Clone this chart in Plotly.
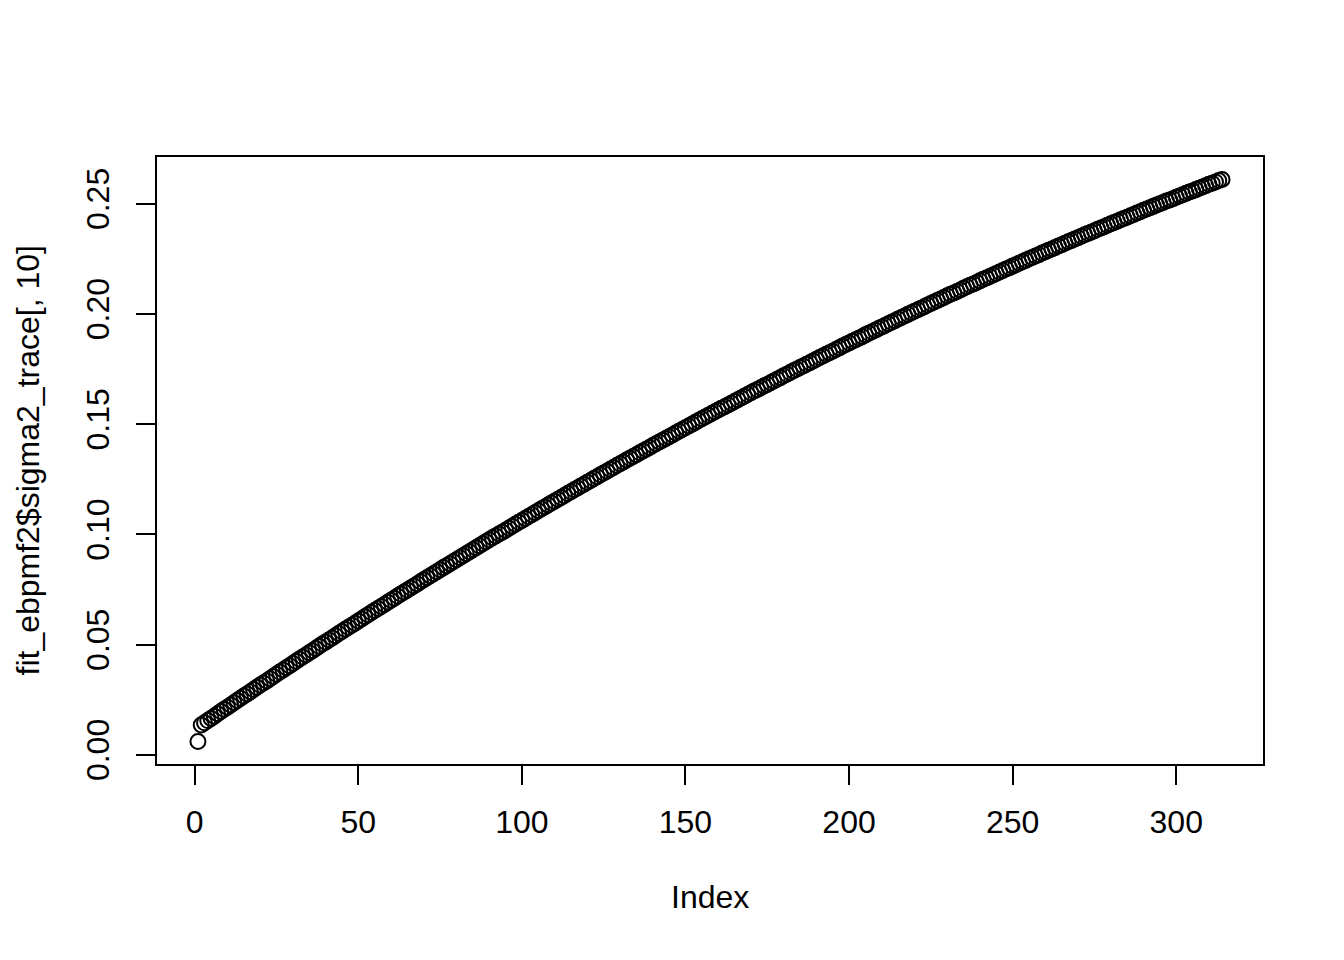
import plotly.graph_objects as go

# Values (index 1..314)
sigma2_trace_10 = [
    0.0060, 0.0135, 0.0145, 0.0155, 0.0165, 0.0175, 0.0186, 0.0196, 0.0206, 0.0216,
    0.0226, 0.0236, 0.0246, 0.0256, 0.0266, 0.0276, 0.0286, 0.0296, 0.0306, 0.0316,
    0.0326, 0.0335, 0.0345, 0.0355, 0.0365, 0.0375, 0.0385, 0.0395, 0.0404, 0.0414,
    0.0424, 0.0434, 0.0443, 0.0453, 0.0463, 0.0472, 0.0482, 0.0492, 0.0502, 0.0511,
    0.0521, 0.0530, 0.0540, 0.0550, 0.0559, 0.0569, 0.0578, 0.0588, 0.0597, 0.0607,
    0.0616, 0.0626, 0.0635, 0.0645, 0.0654, 0.0663, 0.0673, 0.0682, 0.0692, 0.0701,
    0.0710, 0.0720, 0.0729, 0.0738, 0.0747, 0.0757, 0.0766, 0.0775, 0.0785, 0.0794,
    0.0803, 0.0812, 0.0821, 0.0830, 0.0839, 0.0849, 0.0858, 0.0867, 0.0876, 0.0885,
    0.0894, 0.0903, 0.0912, 0.0921, 0.0930, 0.0939, 0.0948, 0.0957, 0.0966, 0.0975,
    0.0984, 0.0993, 0.1002, 0.1010, 0.1019, 0.1028, 0.1037, 0.1046, 0.1055, 0.1063,
    0.1072, 0.1081, 0.1089, 0.1098, 0.1107, 0.1116, 0.1124, 0.1133, 0.1142, 0.1150,
    0.1159, 0.1167, 0.1176, 0.1185, 0.1193, 0.1202, 0.1210, 0.1219, 0.1227, 0.1236,
    0.1244, 0.1253, 0.1261, 0.1270, 0.1278, 0.1286, 0.1295, 0.1303, 0.1312, 0.1320,
    0.1328, 0.1337, 0.1345, 0.1353, 0.1361, 0.1370, 0.1378, 0.1386, 0.1394, 0.1403,
    0.1411, 0.1419, 0.1427, 0.1435, 0.1443, 0.1451, 0.1460, 0.1468, 0.1476, 0.1484,
    0.1492, 0.1500, 0.1508, 0.1516, 0.1524, 0.1532, 0.1540, 0.1548, 0.1556, 0.1564,
    0.1572, 0.1579, 0.1587, 0.1595, 0.1603, 0.1611, 0.1619, 0.1626, 0.1634, 0.1642,
    0.1650, 0.1657, 0.1665, 0.1673, 0.1680, 0.1688, 0.1696, 0.1704, 0.1711, 0.1719,
    0.1726, 0.1734, 0.1742, 0.1749, 0.1757, 0.1764, 0.1772, 0.1779, 0.1787, 0.1794,
    0.1802, 0.1809, 0.1817, 0.1824, 0.1831, 0.1839, 0.1846, 0.1854, 0.1861, 0.1868,
    0.1876, 0.1883, 0.1890, 0.1897, 0.1905, 0.1912, 0.1919, 0.1926, 0.1934, 0.1941,
    0.1948, 0.1955, 0.1962, 0.1969, 0.1977, 0.1984, 0.1991, 0.1998, 0.2005, 0.2012,
    0.2019, 0.2026, 0.2033, 0.2040, 0.2047, 0.2054, 0.2061, 0.2068, 0.2075, 0.2082,
    0.2089, 0.2095, 0.2102, 0.2109, 0.2116, 0.2123, 0.2130, 0.2136, 0.2143, 0.2150,
    0.2157, 0.2163, 0.2170, 0.2177, 0.2183, 0.2190, 0.2197, 0.2204, 0.2210, 0.2217,
    0.2223, 0.2230, 0.2237, 0.2243, 0.2250, 0.2256, 0.2263, 0.2269, 0.2276, 0.2282,
    0.2289, 0.2295, 0.2301, 0.2308, 0.2314, 0.2321, 0.2327, 0.2333, 0.2340, 0.2346,
    0.2352, 0.2359, 0.2365, 0.2371, 0.2377, 0.2384, 0.2390, 0.2396, 0.2402, 0.2409,
    0.2415, 0.2421, 0.2427, 0.2433, 0.2439, 0.2445, 0.2451, 0.2458, 0.2464, 0.2470,
    0.2476, 0.2482, 0.2488, 0.2494, 0.2500, 0.2506, 0.2512, 0.2517, 0.2523, 0.2529,
    0.2535, 0.2541, 0.2547, 0.2553, 0.2558, 0.2564, 0.2570, 0.2576, 0.2582, 0.2588,
    0.2593, 0.2599, 0.2605, 0.2610,
]
index = list(range(1, len(sigma2_trace_10) + 1))

x_ticks = [0, 50, 100, 150, 200, 250, 300]
y_ticks = [0.00, 0.05, 0.10, 0.15, 0.20, 0.25]

x_title = "Index"
y_title = "fit_ebpmf2$sigma2_trace[, 10]"

# R-style 4% range extension
def r_range(v):
    lo, hi = min(v), max(v)
    d = (hi - lo) * 0.04
    return [lo - d, hi + d]

FONT = "Liberation Sans, Arial, Helvetica, sans-serif"
FS = 32

fig = go.Figure()
fig.add_trace(go.Scatter(
    x=index, y=sigma2_trace_10, mode="markers",
    marker=dict(symbol="circle-open", size=15, color="black",
                line=dict(width=2, color="black")),
    showlegend=False, hoverinfo="x+y",
))

axis_common = dict(
    showline=True, mirror=True, linecolor="black", linewidth=2,
    ticks="outside", ticklen=19, tickwidth=2, tickcolor="black",
    showgrid=False, zeroline=False,
    tickfont=dict(family=FONT, size=FS, color="black"),
)

fig.update_layout(
    width=1344, height=960,
    margin=dict(l=149, r=89, t=149, b=204),
    paper_bgcolor="white", plot_bgcolor="white",
    font=dict(family=FONT, size=FS, color="black"),
    xaxis=dict(range=r_range(index), tickvals=x_ticks,
               ticktext=[str(t) for t in x_ticks], ticklabelstandoff=10,
               **axis_common),
    yaxis=dict(range=r_range(sigma2_trace_10), tickvals=y_ticks,
               ticktext=[f"{t:.2f}" for t in y_ticks], tickangle=-90,
               ticklabelstandoff=14, **axis_common),
    annotations=[
        dict(text=x_title, xref="paper", yref="paper", x=0.5,
             y=-(877 - 764) / (764 - 157), xanchor="center", yanchor="top",
             showarrow=False, font=dict(family=FONT, size=FS, color="black")),
        dict(text=y_title, xref="paper", yref="paper",
             x=(27 - 157) / (1263 - 157), y=0.5, xanchor="center",
             yanchor="middle", textangle=-90, showarrow=False,
             font=dict(family=FONT, size=FS, color="black")),
    ],
)

fig.write_html("out.html")
